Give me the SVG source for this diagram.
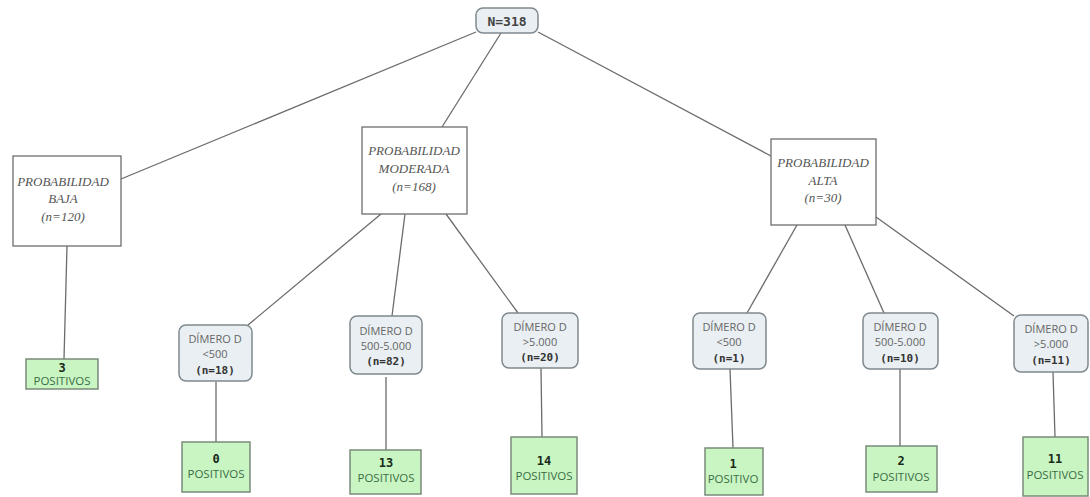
<svg xmlns="http://www.w3.org/2000/svg" width="1090" height="497" viewBox="0 0 1090 497">
<style>
.edge{stroke:#6b6b6b;stroke-width:1.3;fill:none}
.prob{fill:#fff;stroke:#6e6e6e;stroke-width:1.3}
.pt{font-family:"Liberation Serif",serif;font-style:italic;font-size:13px;fill:#555;text-anchor:middle}
.dim{fill:#e9eff2;stroke:#7f898e;stroke-width:1.5}
.dt{font-family:"Open Sans","DejaVu Sans",sans-serif;font-size:11px;fill:#666;text-anchor:middle}
.db{font-family:"DejaVu Sans Mono",monospace;font-weight:bold;font-size:11px;fill:#333;text-anchor:middle}
.pos{fill:#c9f5c3;stroke:#7a8a7a;stroke-width:1.5}
.pn{font-family:"DejaVu Sans Mono",monospace;font-weight:bold;font-size:12px;fill:#1a2a1a;text-anchor:middle}
.pp{font-family:"Open Sans","DejaVu Sans",sans-serif;font-size:11.5px;fill:#3a6e45;text-anchor:middle}
</style>
<rect width="1090" height="497" fill="#fff"/>
<g id="connectors">
<line class="edge" x1="476" y1="32" x2="121" y2="179"/>
<line class="edge" x1="501" y1="33" x2="442" y2="127"/>
<line class="edge" x1="538" y1="32" x2="771" y2="156"/>
<line class="edge" x1="67" y1="246" x2="64" y2="359"/>
<line class="edge" x1="381" y1="214" x2="248" y2="325"/>
<line class="edge" x1="405" y1="214" x2="392" y2="316"/>
<line class="edge" x1="446" y1="214" x2="518" y2="313"/>
<line class="edge" x1="216" y1="382" x2="216" y2="442"/>
<line class="edge" x1="386" y1="377" x2="386" y2="450"/>
<line class="edge" x1="541" y1="368" x2="542" y2="437"/>
<line class="edge" x1="797" y1="225" x2="747" y2="313"/>
<line class="edge" x1="845" y1="225" x2="884" y2="313"/>
<line class="edge" x1="876" y1="217" x2="1014" y2="316"/>
<line class="edge" x1="730" y1="369" x2="733" y2="448"/>
<line class="edge" x1="900" y1="369" x2="900" y2="446"/>
<line class="edge" x1="1053" y1="372" x2="1055" y2="437"/>
</g>
<g id="root">
<rect x="476" y="8" width="62" height="25" rx="7" fill="#e9eff2" stroke="#7f898e" stroke-width="1.5"/>
<text x="507" y="26" font-family="'DejaVu Sans Mono',monospace" font-weight="bold" font-size="13" fill="#444" text-anchor="middle">N=318</text>
</g>
<g id="prob-baja">
<rect class="prob" x="13" y="156" width="108" height="90"/>
<text class="pt" x="63" y="186">PROBABILIDAD</text>
<text class="pt" x="63" y="203">BAJA</text>
<text class="pt" x="63" y="221">(n=120)</text>
</g>
<g id="prob-moderada">
<rect class="prob" x="362" y="127" width="105" height="87"/>
<text class="pt" x="414" y="155">PROBABILIDAD</text>
<text class="pt" x="414" y="173">MODERADA</text>
<text class="pt" x="414" y="191">(n=168)</text>
</g>
<g id="prob-alta">
<rect class="prob" x="771" y="139" width="105" height="86"/>
<text class="pt" x="823" y="167">PROBABILIDAD</text>
<text class="pt" x="823" y="185">ALTA</text>
<text class="pt" x="823" y="202">(n=30)</text>
</g>
<g id="pos-3">
<rect class="pos" x="26" y="359" width="72" height="30"/>
<text class="pn" x="62" y="372">3</text>
<text class="pp" x="62" y="385">POSITIVOS</text>
</g>
<g id="dim-1">
<rect class="dim" x="179" y="325" width="73" height="56" rx="7"/>
<text class="dt" x="215" y="343">DÍMERO D</text>
<text class="dt" x="215" y="358">&lt;500</text>
<text class="db" x="215" y="374">(n=18)</text>
</g>
<g id="dim-2">
<rect class="dim" x="350" y="316" width="72" height="58" rx="7"/>
<text class="dt" x="386" y="335">DÍMERO D</text>
<text class="dt" x="386" y="350">500-5.000</text>
<text class="db" x="386" y="365">(n=82)</text>
</g>
<g id="dim-3">
<rect class="dim" x="502" y="313" width="76" height="55" rx="7"/>
<text class="dt" x="540" y="331">DÍMERO D</text>
<text class="dt" x="540" y="346">&gt;5.000</text>
<text class="db" x="540" y="361">(n=20)</text>
</g>
<g id="dim-4">
<rect class="dim" x="693" y="313" width="73" height="56" rx="7"/>
<text class="dt" x="729" y="331">DÍMERO D</text>
<text class="dt" x="729" y="346">&lt;500</text>
<text class="db" x="729" y="362">(n=1)</text>
</g>
<g id="dim-5">
<rect class="dim" x="863" y="313" width="75" height="56" rx="7"/>
<text class="dt" x="900" y="331">DÍMERO D</text>
<text class="dt" x="900" y="346">500-5.000</text>
<text class="db" x="900" y="362">(n=10)</text>
</g>
<g id="dim-6">
<rect class="dim" x="1014" y="315" width="74" height="57" rx="7"/>
<text class="dt" x="1051" y="333">DÍMERO D</text>
<text class="dt" x="1051" y="348">&gt;5.000</text>
<text class="db" x="1051" y="364">(n=11)</text>
</g>
<g id="pos-0">
<rect class="pos" x="182" y="442" width="68" height="50"/>
<text class="pn" x="216" y="463">0</text>
<text class="pp" x="216" y="478">POSITIVOS</text>
</g>
<g id="pos-13">
<rect class="pos" x="350" y="450" width="71" height="44"/>
<text class="pn" x="386" y="467">13</text>
<text class="pp" x="386" y="482">POSITIVOS</text>
</g>
<g id="pos-14">
<rect class="pos" x="511" y="437" width="66" height="57"/>
<text class="pn" x="544" y="465">14</text>
<text class="pp" x="544" y="480">POSITIVOS</text>
</g>
<g id="pos-1">
<rect class="pos" x="705" y="448" width="58" height="47"/>
<text class="pn" x="733" y="468">1</text>
<text class="pp" x="733" y="483">POSITIVO</text>
</g>
<g id="pos-2">
<rect class="pos" x="866" y="446" width="71" height="46"/>
<text class="pn" x="901" y="465">2</text>
<text class="pp" x="901" y="481">POSITIVOS</text>
</g>
<g id="pos-11">
<rect class="pos" x="1023" y="437" width="65" height="59"/>
<text class="pn" x="1055" y="463">11</text>
<text class="pp" x="1055" y="479">POSITIVOS</text>
</g>
</svg>
